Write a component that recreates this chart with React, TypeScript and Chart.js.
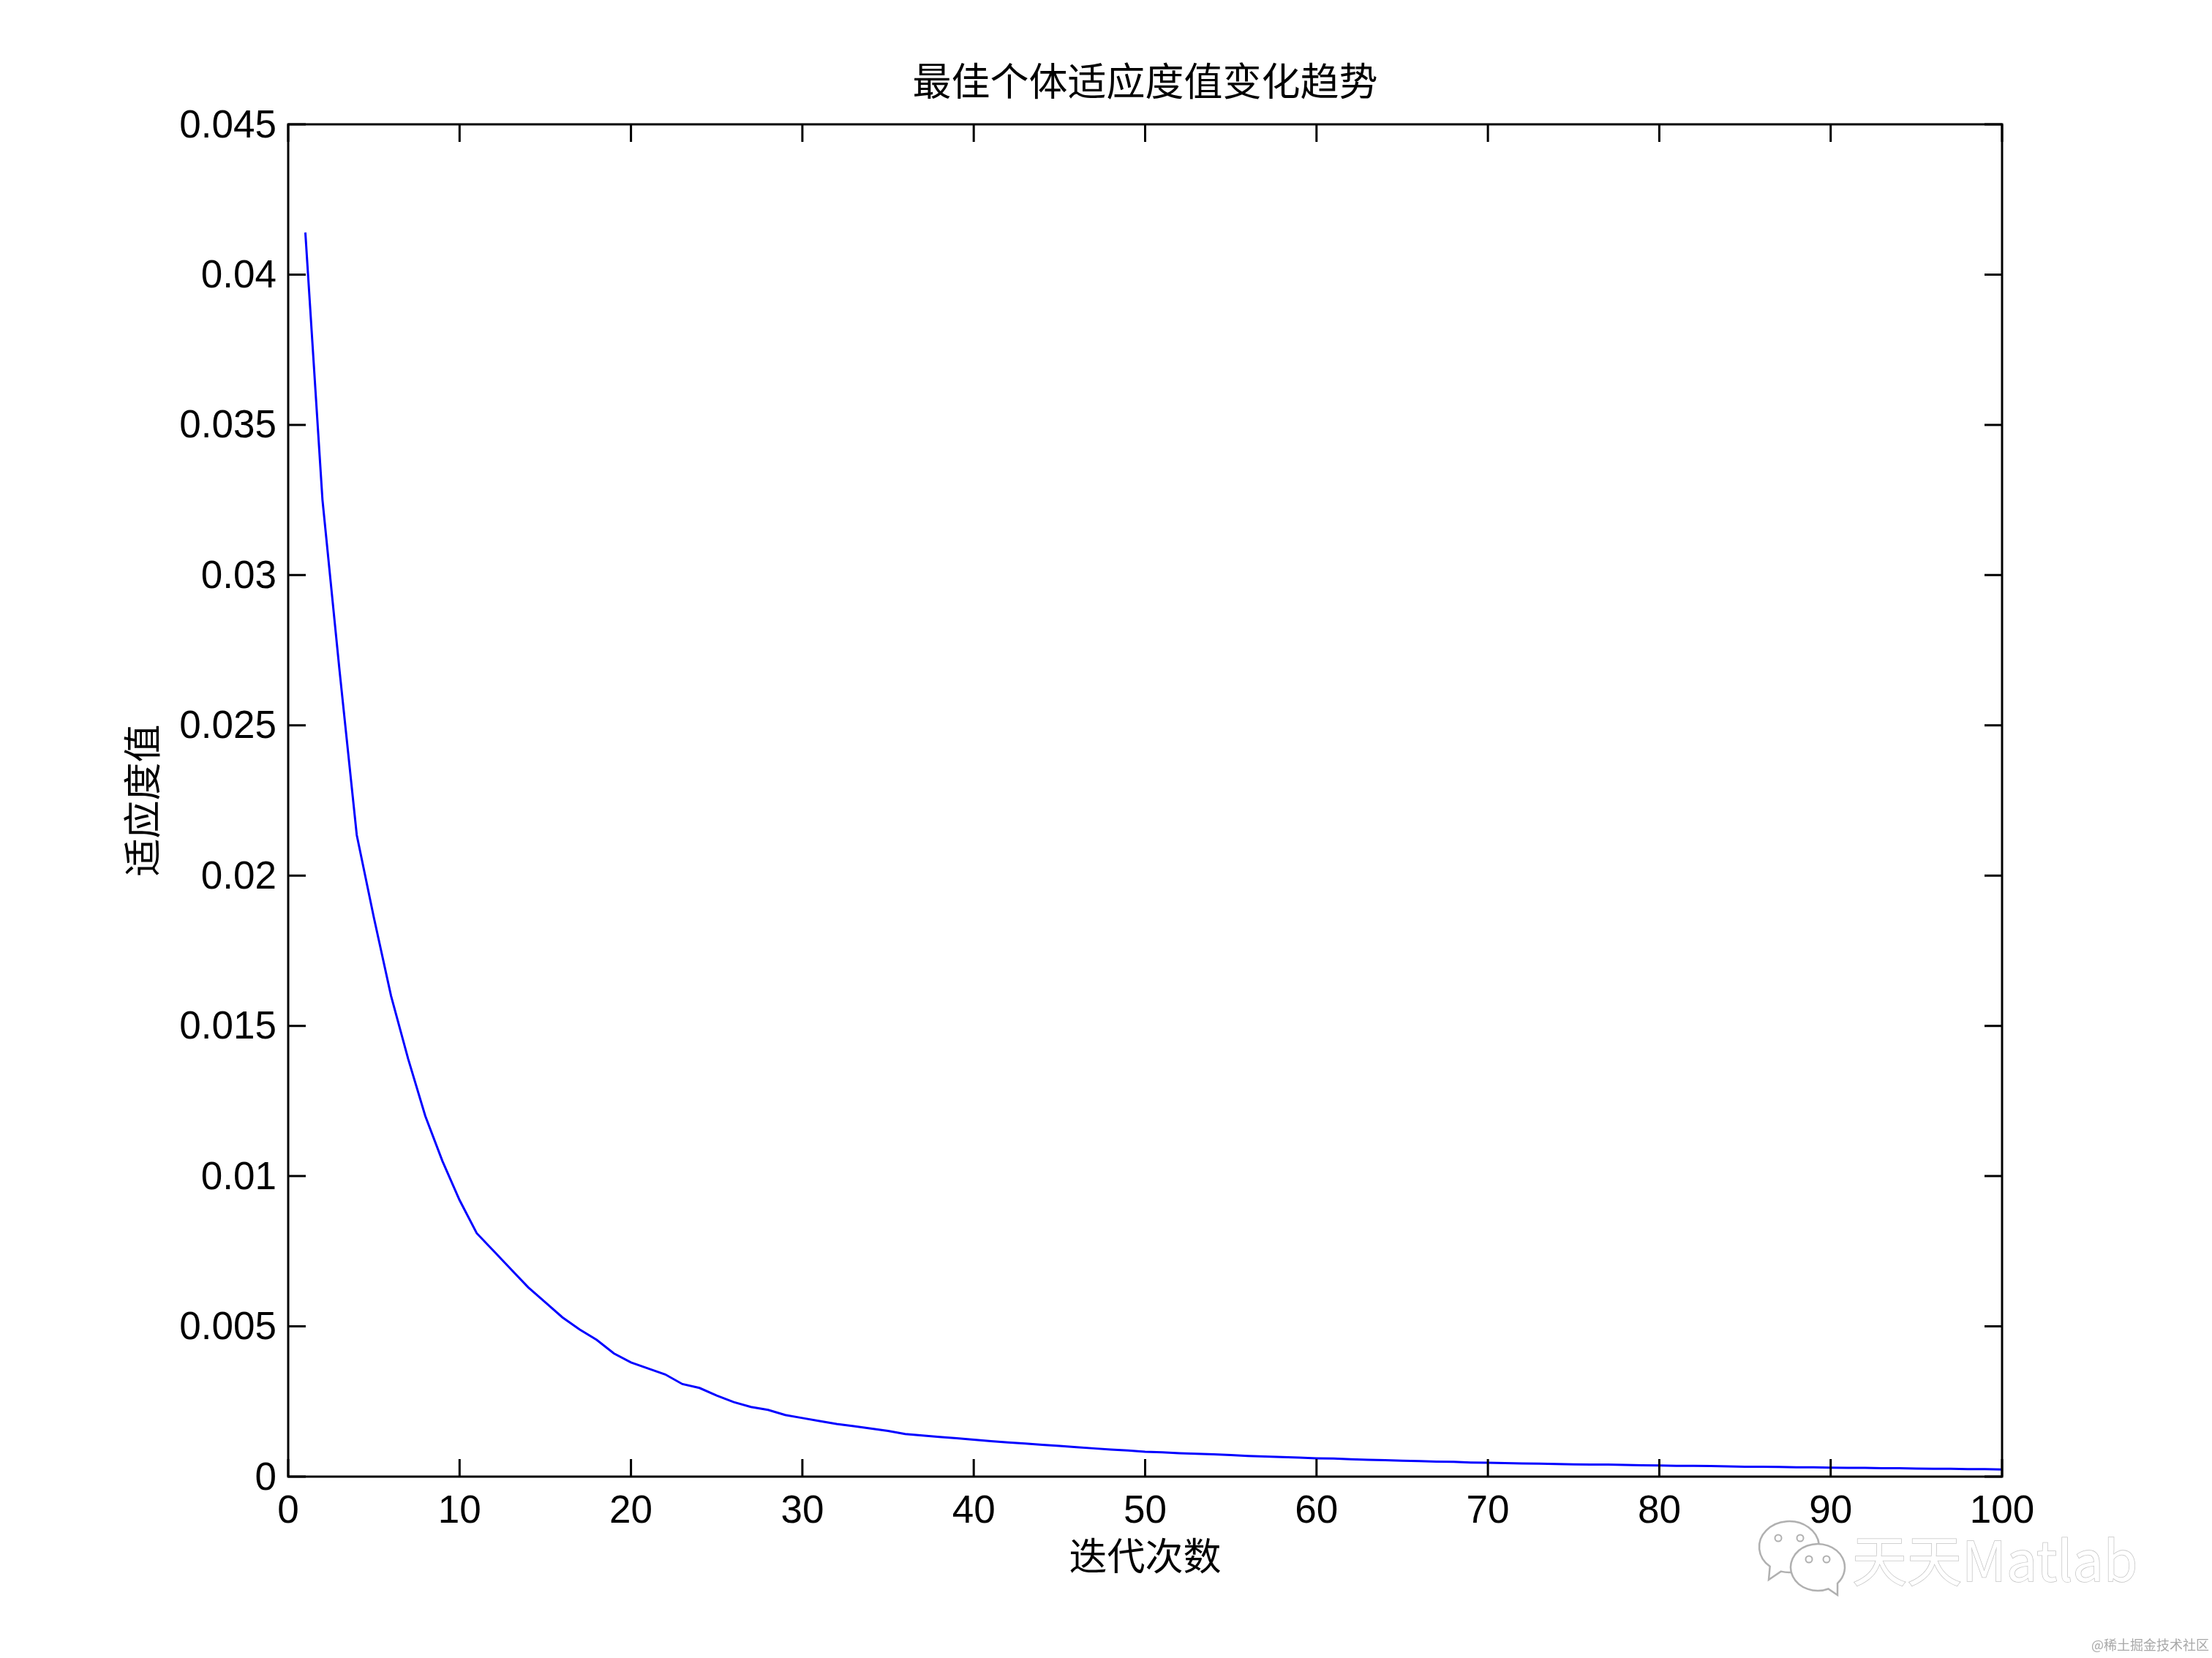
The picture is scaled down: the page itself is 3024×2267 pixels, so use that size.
import React, { useEffect, useRef } from "react";
import { Chart, registerables } from "chart.js";

Chart.register(...registerables);

const titleText = "最佳个体适应度值变化趋势";
const xLabel = "迭代次数";
const yLabel = "适应度值";
const xTicks = [0, 10, 20, 30, 40, 50, 60, 70, 80, 90, 100];
const yTicks = [0, 0.005, 0.01, 0.015, 0.02, 0.025, 0.03, 0.035, 0.04, 0.045];
const fitness = [
  0.0414, 0.0325, 0.0268, 0.02135, 0.0186, 0.016, 0.0139, 0.012, 0.0105, 0.0092,
  0.0081, 0.0075, 0.0069, 0.0063, 0.0058, 0.0053, 0.0049, 0.00455, 0.0041, 0.0038,
  0.0036, 0.0034, 0.00308, 0.00295, 0.0027, 0.00248, 0.00232, 0.00222, 0.00205, 0.00195,
  0.00185, 0.00175, 0.00168, 0.0016, 0.00152, 0.00142, 0.00137, 0.00132, 0.00128, 0.00123,
  0.00118, 0.00114, 0.0011, 0.00106, 0.00102, 0.00098, 0.00094, 0.0009, 0.00087, 0.00083,
  0.00081, 0.00078, 0.00076, 0.00074, 0.00072, 0.00069, 0.00067, 0.00065, 0.00063, 0.00061,
  0.0006, 0.00058, 0.00056, 0.00055, 0.00053, 0.00052, 0.0005, 0.00049, 0.00047, 0.00046,
  0.00045, 0.00044, 0.00043, 0.00042, 0.00041, 0.0004, 0.0004, 0.00039, 0.00038, 0.00037,
  0.00036, 0.00036, 0.00035, 0.00034, 0.00033, 0.00033, 0.00032, 0.00031, 0.00031, 0.0003,
  0.00029, 0.00029, 0.00028, 0.00028, 0.00027, 0.00026, 0.00026, 0.00025, 0.00025, 0.00024,
];
const watermarkText = "天天Matlab";
const creditText = "@稀土掘金技术社区";

const TICK_FONT = "'Liberation Sans', Arial, sans-serif";
const CJK_FONT = "'Noto Sans CJK SC', sans-serif";

const frameAndTicks = {
  id: "frameAndTicks",
  afterDatasetsDraw(chart: any) {
    const { ctx, chartArea: a, scales } = chart;
    const len = 24;
    ctx.save();
    ctx.strokeStyle = "#000";
    ctx.lineWidth = 3;
    ctx.strokeRect(a.left, a.top, a.right - a.left, a.bottom - a.top);
    ctx.beginPath();
    xTicks.forEach((v) => {
      const x = scales.x.getPixelForValue(v);
      ctx.moveTo(x, a.bottom);
      ctx.lineTo(x, a.bottom - len);
      ctx.moveTo(x, a.top);
      ctx.lineTo(x, a.top + len);
    });
    yTicks.forEach((v) => {
      const y = scales.y.getPixelForValue(v);
      ctx.moveTo(a.left, y);
      ctx.lineTo(a.left + len, y);
      ctx.moveTo(a.right, y);
      ctx.lineTo(a.right - len, y);
    });
    ctx.stroke();
    ctx.restore();
  },
};

const watermark = {
  id: "watermark",
  afterDraw(chart: any) {
    const { ctx } = chart;
    ctx.save();
    const rad = Math.PI / 180;
    const bubble = (
      cx: number, cy: number, rx: number, ry: number,
      tipX: number, tipY: number, tailDeg: number, eyeDx: number, eyeDy: number,
    ) => {
      ctx.beginPath();
      ctx.ellipse(cx, cy, rx, ry, 0, (tailDeg + 12) * rad, (tailDeg - 12 + 360) * rad);
      ctx.lineTo(tipX, tipY);
      ctx.closePath();
      ctx.fillStyle = "#fff";
      ctx.strokeStyle = "#b0b0b0";
      ctx.lineWidth = 2.5;
      ctx.fill();
      ctx.stroke();
      ctx.lineWidth = 2;
      [-eyeDx, eyeDx].forEach((d) => {
        ctx.beginPath();
        ctx.arc(cx + d, cy + eyeDy, 4.5, 0, Math.PI * 2);
        ctx.stroke();
      });
    };
    bubble(2446, 2115, 41, 35, 2418, 2160, 118, 15, -12);
    bubble(2485, 2143, 37, 32, 2512, 2181, 55, 12, -11);
    ctx.textBaseline = "alphabetic";
    ctx.textAlign = "left";
    ctx.font = `75px ${CJK_FONT}`;
    ctx.fillStyle = "#fff";
    ctx.strokeStyle = "#c4c4c4";
    ctx.lineWidth = 1.5;
    ctx.strokeText(watermarkText, 2532, 2162);
    ctx.fillText(watermarkText, 2532, 2162);
    ctx.font = `18px ${CJK_FONT}`;
    ctx.fillStyle = "#a8a8a8";
    ctx.fillText(creditText, 2859, 2256);
    ctx.restore();
  },
};

export default function App() {
  const ref = useRef<HTMLCanvasElement>(null);
  useEffect(() => {
    const chart = new Chart(ref.current!, {
      type: "line",
      data: {
        datasets: [
          {
            data: fitness.map((y, i) => ({ x: i + 1, y })),
            borderColor: "#0000ff",
            borderWidth: 3,
            pointRadius: 0,
            tension: 0,
            fill: false,
          },
        ],
      },
      options: {
        responsive: false,
        animation: false,
        layout: { padding: { left: 0, top: 0, right: 287, bottom: 0 } },
        plugins: {
          legend: { display: false },
          tooltip: { enabled: false },
          title: {
            display: true,
            text: titleText,
            fullSize: false,
            color: "#000",
            font: { family: CJK_FONT, size: 53, weight: "normal", lineHeight: 1 },
            padding: { top: 84, bottom: 33 },
          },
        },
        scales: {
          x: {
            type: "linear",
            min: 0,
            max: 100,
            afterBuildTicks: (s: any) => {
              s.ticks = xTicks.map((value) => ({ value }));
            },
            afterFit: (s: any) => {
              s.height = 248;
            },
            grid: { display: false },
            border: { display: false },
            ticks: {
              color: "#000",
              maxRotation: 0,
              padding: 9,
              font: { family: TICK_FONT, size: 53 },
              callback: (v: any) => String(v),
            },
            title: {
              display: true,
              text: xLabel,
              color: "#000",
              font: { family: CJK_FONT, size: 52, weight: "normal", lineHeight: 1 },
              padding: { top: 4, bottom: 114 },
            },
          },
          y: {
            type: "linear",
            min: 0,
            max: 0.045,
            afterBuildTicks: (s: any) => {
              s.ticks = yTicks.map((value) => ({ value }));
            },
            afterFit: (s: any) => {
              s.width = 394;
            },
            grid: { display: false },
            border: { display: false },
            ticks: {
              color: "#000",
              padding: 8,
              labelOffset: 3,
              font: { family: TICK_FONT, size: 53 },
              callback: (v: any) => String(v),
            },
            title: {
              display: true,
              text: yLabel,
              color: "#000",
              font: { family: CJK_FONT, size: 52, weight: "normal", lineHeight: 1 },
              padding: { top: 168, bottom: 0 },
            },
          },
        },
      },
      plugins: [frameAndTicks, watermark],
    } as any);
    return () => chart.destroy();
  }, []);
  return (
    <div style={{ position: "absolute", left: 0, top: 0, width: 3024, height: 2267, background: "#fff" }}>
      <canvas ref={ref} width={3024} height={2267} style={{ display: "block" }} />
    </div>
  );
}
